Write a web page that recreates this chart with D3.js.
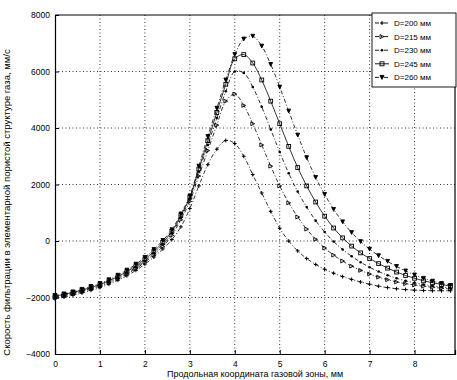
<!doctype html>
<html>
<head>
<meta charset="utf-8">
<style>
    body { margin: 0; background: #fff; }
    svg { display: block; font-family: "Liberation Sans", Arial, sans-serif; }
    .grid line { stroke: #000; stroke-dasharray: 1,2.5; stroke-width: 0.8; }
</style>
<script src="https://d3js.org/d3.v7.min.js"></script>
</head>
<body>
<div id="chart"></div>
<script>
// x positions, mm
var xs = [0, 0.2, 0.4, 0.6, 0.8, 1.0, 1.2, 1.4, 1.6, 1.8, 2.0, 2.2, 2.4, 2.6, 2.8, 3.0,
          3.2, 3.4, 3.6, 3.8, 4.0, 4.2, 4.4, 4.6, 4.8, 5.0, 5.2, 5.4, 5.6, 5.8, 6.0,
          6.2, 6.4, 6.6, 6.8, 7.0, 7.2, 7.4, 7.6, 7.8, 8.0, 8.2, 8.4, 8.6, 8.8];

var d200 = [-2050, -1990, -1920, -1840, -1750, -1650, -1530, -1390, -1230, -1040, -820, -570, -280, 50, 500, 1150,
            1950, 2700, 3250, 3560, 3450, 3000, 2350, 1700, 1050, 450, 0, -350, -620, -830, -1000,
            -1140, -1260, -1360, -1450, -1530, -1600, -1650, -1690, -1720, -1740, -1750, -1760, -1760, -1760];
var d215 = [-2000, -1940, -1870, -1790, -1700, -1600, -1480, -1340, -1170, -980, -750, -490, -190, 200, 750, 1400,
            2300, 3200, 4100, 4950, 5200, 4800, 4150, 3400, 2650, 1950, 1350, 850, 420, 60, -250,
            -500, -710, -890, -1040, -1170, -1280, -1370, -1450, -1510, -1560, -1600, -1640, -1670, -1700];
var d230 = [-1980, -1920, -1850, -1770, -1680, -1570, -1450, -1300, -1130, -930, -700, -430, -120, 280, 830, 1500,
            2450, 3400, 4350, 5300, 6000, 5950, 5450, 4750, 3950, 3150, 2400, 1750, 1200, 720, 320,
            -20, -300, -540, -750, -930, -1080, -1210, -1320, -1410, -1480, -1540, -1590, -1630, -1670];
var d245 = [-1950, -1890, -1820, -1740, -1650, -1540, -1410, -1260, -1080, -880, -640, -370, -50, 340, 900, 1550,
            2550, 3550, 4550, 5550, 6450, 6600, 6300, 5700, 4950, 4150, 3350, 2600, 1950, 1380, 880,
            460, 110, -180, -420, -620, -800, -960, -1100, -1220, -1320, -1410, -1480, -1540, -1600];
var d260 = [-1930, -1870, -1800, -1710, -1610, -1500, -1370, -1210, -1030, -820, -580, -300, 20, 400, 960, 1600,
            2650, 3700, 4700, 5700, 6600, 7150, 7250, 6900, 6250, 5450, 4600, 3750, 2950, 2250, 1650,
            1120, 680, 300, -20, -290, -520, -720, -900, -1060, -1200, -1320, -1420, -1500, -1570];

var seriesNames = ["D=200 мм", "D=215 мм", "D=230 мм", "D=245 мм", "D=260 мм"];
var xTicks = [0, 1, 2, 3, 4, 5, 6, 7, 8];
var yTicks = [-4000, -2000, 0, 2000, 4000, 6000, 8000];

var series = [
    {name: seriesNames[0], values: d200, marker: "plus", dash: "4,2,1,2"},
    {name: seriesNames[1], values: d215, marker: "triright", dash: "4,2,1,2"},
    {name: seriesNames[2], values: d230, marker: "dot", dash: "4,2,1,2"},
    {name: seriesNames[3], values: d245, marker: "square", dash: null},
    {name: seriesNames[4], values: d260, marker: "tridown", dash: "4,2,1,2"}
];

var W = 457, H = 380;
var margin = {top: 15, right: 2, bottom: 26, left: 55};
var width = W - margin.left - margin.right,
    height = H - margin.top - margin.bottom;

var svg = d3.select("#chart").append("svg")
    .attr("width", W)
    .attr("height", H);

var g = svg.append("g")
    .attr("transform", "translate(" + margin.left + "," + margin.top + ")");

var x = d3.scaleLinear().domain([0, 8.9]).range([0, width]);
var y = d3.scaleLinear().domain([-4000, 8000]).range([height, 0]);

// dotted grid
g.append("g").attr("class", "grid")
    .selectAll("line").data(xTicks.slice(1)).enter().append("line")
    .attr("x1", function(d) { return x(d); }).attr("x2", function(d) { return x(d); })
    .attr("y1", 0).attr("y2", height);
g.append("g").attr("class", "grid")
    .selectAll("line").data(yTicks.slice(1, -1)).enter().append("line")
    .attr("y1", function(d) { return y(d); }).attr("y2", function(d) { return y(d); })
    .attr("x1", 0).attr("x2", width);

// axes, matlab style ticks inside
var xAxis = g.append("g")
    .attr("transform", "translate(0," + height + ")")
    .call(d3.axisBottom(x).tickValues(xTicks).tickFormat(d3.format("d")).tickSize(-4).tickPadding(7));
var yAxis = g.append("g")
    .call(d3.axisLeft(y).tickValues(yTicks).tickFormat(d3.format("d")).tickSize(-4).tickPadding(5));
[xAxis, yAxis].forEach(function(a) {
    a.select(".domain").attr("stroke", "#000").attr("stroke-width", 1.2);
    a.selectAll("text").attr("font-size", 8.5).attr("fill", "#000");
});

// box
g.append("line").attr("x1", 0).attr("x2", width).attr("y1", 0).attr("y2", 0)
    .attr("stroke", "#000").attr("stroke-width", 1.2);
g.append("line").attr("x1", width).attr("x2", width).attr("y1", 0).attr("y2", height)
    .attr("stroke", "#000").attr("stroke-width", 1.2);

function drawMarker(sel, type, s) {
    if (type === "plus") {
        sel.append("path").attr("d", "M" + (-s) + ",0H" + s + "M0," + (-s) + "V" + s)
            .attr("stroke", "#000").attr("stroke-width", 1).attr("fill", "none");
    } else if (type === "triright") {
        sel.append("path").attr("d", "M" + (-s) + "," + (-s) + "L" + s + ",0L" + (-s) + "," + s + "Z")
            .attr("stroke", "#000").attr("stroke-width", 0.9).attr("fill", "none");
    } else if (type === "dot") {
        sel.append("circle").attr("r", 1.3).attr("fill", "#000");
    } else if (type === "square") {
        sel.append("rect").attr("x", -s).attr("y", -s).attr("width", 2 * s).attr("height", 2 * s)
            .attr("stroke", "#000").attr("stroke-width", 0.9).attr("fill", "none");
    } else if (type === "tridown") {
        sel.append("path").attr("d", "M" + (-s) + "," + (-s) + "L" + s + "," + (-s) + "L0," + s + "Z")
            .attr("stroke", "#000").attr("stroke-width", 0.9).attr("fill", "#000");
    }
}

var line = d3.line()
    .x(function(d) { return x(d[0]); })
    .y(function(d) { return y(d[1]); })
    .curve(d3.curveCatmullRom);

series.forEach(function(s) {
    var pts = xs.map(function(v, i) { return [v, s.values[i]]; });
    g.append("path").datum(pts)
        .attr("d", line)
        .attr("fill", "none")
        .attr("stroke", "#000")
        .attr("stroke-width", 0.8)
        .attr("stroke-dasharray", s.dash);
    g.append("g").selectAll("g").data(pts).enter().append("g")
        .attr("transform", function(d) { return "translate(" + x(d[0]) + "," + y(d[1]) + ")"; })
        .each(function() { drawMarker(d3.select(this), s.marker, 1.9); });
});

// legend
var lg = svg.append("g").attr("transform", "translate(372,13)");
lg.append("rect").attr("width", 84).attr("height", 74)
    .attr("fill", "#fff").attr("stroke", "#000").attr("stroke-width", 0.9);
series.forEach(function(s, i) {
    var row = lg.append("g").attr("transform", "translate(0," + (10 + i * 13.6) + ")");
    row.append("line").attr("x1", 3).attr("x2", 17).attr("y1", 0).attr("y2", 0)
        .attr("stroke", "#000").attr("stroke-width", 0.9).attr("stroke-dasharray", s.dash);
    drawMarker(row.append("g").attr("transform", "translate(10,0)"), s.marker, 2);
    row.append("text").attr("x", 22).attr("y", 3).attr("font-size", 8).text(s.name);
});

// axis titles
svg.append("text")
    .attr("x", margin.left + width / 2).attr("y", 377)
    .attr("text-anchor", "middle").attr("font-size", 9)
    .text("Продольная координата газовой зоны, мм");
svg.append("text")
    .attr("transform", "translate(10," + (margin.top + height / 2 + 18) + ") rotate(-90)")
    .attr("text-anchor", "middle").attr("font-size", 9.5)
    .text("Скорость фильтрации в элементарной пористой структуре газа, мм/с");
</script>
</body>
</html>
